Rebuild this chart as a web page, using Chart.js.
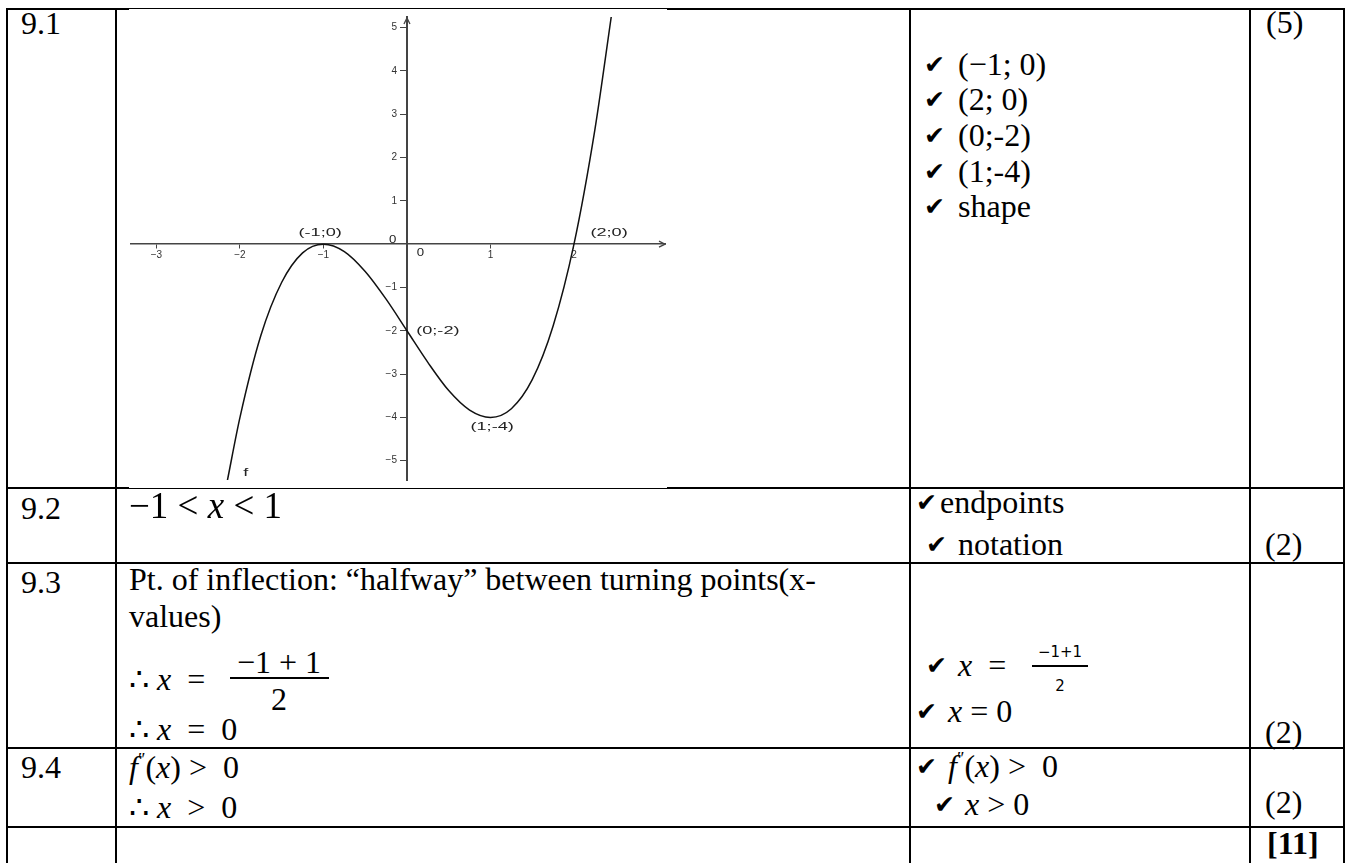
<!DOCTYPE html>
<html>
<head>
<meta charset="utf-8">
<script src="https://cdn.jsdelivr.net/npm/chart.js@4.4.1/dist/chart.umd.min.js"></script>
<style>
  body { margin: 0; width: 1352px; height: 863px; overflow: hidden; background: #fff; position: relative;
         font-family: "Liberation Serif", "Times New Roman", serif; color: #000; }
  .ln { position: absolute; background: #000; }
  .t { position: absolute; font-size: 32px; line-height: 1; white-space: nowrap; }
  .big { font-size: 37px; }
  .ck { position: absolute; font-family: "DejaVu Sans", sans-serif; font-size: 25px; line-height: 1; margin-top: -3px; }
  .sm { position: absolute; font-family: "DejaVu Sans", sans-serif; font-size: 15px; line-height: 1; text-align: center; }
  i { font-style: italic; }
  #plot { position: absolute; left: 130px; top: 9px; width: 536px; height: 479px; background: #fff; }
</style>
</head>
<body>

<!-- table rules -->
<div class="ln" style="left:6px;top:8px;width:123px;height:2px"></div>
<div class="ln" style="left:129px;top:8px;width:538px;height:1px"></div>
<div class="ln" style="left:667px;top:8px;width:678px;height:2px"></div>
<div class="ln" style="left:6px;top:487px;width:123px;height:2px"></div>
<div class="ln" style="left:129px;top:488px;width:538px;height:1px"></div>
<div class="ln" style="left:667px;top:487px;width:678px;height:2px"></div>
<div class="ln" style="left:6px;top:562px;width:1339px;height:2px"></div>
<div class="ln" style="left:6px;top:747px;width:1339px;height:2px"></div>
<div class="ln" style="left:6px;top:826px;width:1339px;height:2px"></div>
<div class="ln" style="left:6px;top:8px;width:2px;height:855px"></div>
<div class="ln" style="left:115px;top:8px;width:2px;height:855px"></div>
<div class="ln" style="left:909px;top:8px;width:2px;height:855px"></div>
<div class="ln" style="left:1249px;top:8px;width:2px;height:855px"></div>
<div class="ln" style="left:1343px;top:8px;width:2px;height:855px"></div>

<div id="plot"><canvas id="chart" width="536" height="479"></canvas></div>

<!-- question numbers -->
<div class="t" style="left:21px;top:7px">9.1</div>
<div class="t" style="left:21px;top:492px">9.2</div>
<div class="t" style="left:21px;top:566px">9.3</div>
<div class="t" style="left:21px;top:751px">9.4</div>

<!-- answers -->
<div class="t big" style="left:129px;top:487px">−1 &lt; <i>x</i> &lt; 1</div>
<div class="t" style="left:129px;top:563px">Pt. of inflection: “halfway” between turning points(x-</div>
<div class="t" style="left:129px;top:600px">values)</div>
<div class="t" style="left:129px;top:663px">∴ <i>x</i> &nbsp;= </div>
<div class="t" style="left:229px;top:646px;width:100px;text-align:center">−1 + 1</div>
<div class="ln" style="left:230px;top:677px;width:99px;height:2px"></div>
<div class="t" style="left:229px;top:683px;width:100px;text-align:center">2</div>
<div class="t" style="left:129px;top:713px">∴ <i>x</i> &nbsp;= &nbsp;0</div>
<div class="t" style="left:129px;top:751px"><i>f</i><sup style="font-size:18px">″</sup>(<i>x</i>) &gt; &nbsp;0</div>
<div class="t" style="left:129px;top:791px">∴ <i>x</i> &nbsp;&gt; &nbsp;0</div>

<!-- marking memo -->
<div class="ck" style="left:924px;top:55px">✔</div><div class="t" style="left:958px;top:48px">(−1; 0)</div>
<div class="ck" style="left:924px;top:90px">✔</div><div class="t" style="left:958px;top:83px">(2; 0)</div>
<div class="ck" style="left:924px;top:126px">✔</div><div class="t" style="left:958px;top:119px">(0;-2)</div>
<div class="ck" style="left:924px;top:162px">✔</div><div class="t" style="left:958px;top:155px">(1;-4)</div>
<div class="ck" style="left:924px;top:197px">✔</div><div class="t" style="left:958px;top:190px">shape</div>

<div class="ck" style="left:916px;top:493px">✔</div><div class="t" style="left:940px;top:486px">endpoints</div>
<div class="ck" style="left:926px;top:535px">✔</div><div class="t" style="left:958px;top:528px">notation</div>

<div class="ck" style="left:926px;top:656px">✔</div><div class="t" style="left:958px;top:649px"><i>x</i> &nbsp;= </div>
<div class="sm" style="left:1030px;top:645px;width:60px">−1+1</div>
<div class="ln" style="left:1032px;top:665px;width:56px;height:2px"></div>
<div class="sm" style="left:1030px;top:679px;width:60px">2</div>
<div class="ck" style="left:916px;top:702px">✔</div><div class="t" style="left:948px;top:695px"><i>x</i> = 0</div>

<div class="ck" style="left:916px;top:757px">✔</div><div class="t" style="left:948px;top:750px"><i>f</i><sup style="font-size:18px">″</sup>(<i>x</i>) &gt; &nbsp;0</div>
<div class="ck" style="left:934px;top:795px">✔</div><div class="t" style="left:965px;top:788px"><i>x</i> &gt; 0</div>

<!-- marks -->
<div class="t" style="left:1266px;top:6px">(5)</div>
<div class="t" style="left:1265px;top:528px">(2)</div>
<div class="t" style="left:1265px;top:716px">(2)</div>
<div class="t" style="left:1265px;top:786px">(2)</div>
<div class="t" style="left:1267px;top:827px;font-weight:bold">[11]</div>

<script>
const curveX = [-2.15, -2, -1.75, -1.5, -1.25, -1, -0.75, -0.5, -0.25, 0, 0.25, 0.5, 0.75, 1, 1.25, 1.5, 1.75, 2, 2.25, 2.45];
const curveY = [-5.45, -4, -2.11, -0.88, -0.2, 0, -0.17, -0.63, -1.27, -2, -2.73, -3.38, -3.83, -4, -3.8, -3.13, -1.89, 0, 2.64, 5.3];

const xTickValues = [-3, -2, -1, 1, 2];
const yTickValues = [-5, -4, -3, -2, -1, 1, 2, 3, 4, 5];

// labelled points on the sketch and where their text sits (chart units)
const pointLabels = ['(-1;0)', '(2;0)', '(0;-2)', '(1;-4)', 'f', '0', '0'];
const labelX = [-1.04, 2.42, 0.11, 1.02, -1.93, 0.16, -0.17];
const labelY = [0.27, 0.25, -2.0, -4.22, -5.29, -0.2, 0.09];
const labelAlign = ['center', 'center', 'left', 'center', 'center', 'center', 'center'];

const axisColor = '#444';
const tickFont = { family: 'Liberation Sans', size: 10 };

const minus = v => String(v).replace('-', '\u2212');
// centred axes put y labels right on the line, so pad them with en spaces
const yLabel = v => minus(v) + '\u2002\u2002';

const sketchPlugin = {
    id: 'sketch',
    afterDraw(chart) {
        const ctx = chart.ctx;
        const xs = chart.scales.x;
        const ys = chart.scales.y;
        const ox = xs.getPixelForValue(0);
        const oy = ys.getPixelForValue(0);

        // arrow heads on the axes
        ctx.save();
        ctx.strokeStyle = axisColor;
        ctx.lineWidth = 1.3;
        const xr = xs.right - 1;
        ctx.beginPath();
        ctx.moveTo(xr - 6, oy - 3); ctx.lineTo(xr, oy); ctx.lineTo(xr - 6, oy + 3);
        ctx.stroke();
        const yt = ys.top + 1;
        ctx.beginPath();
        ctx.moveTo(ox - 3, yt + 6); ctx.lineTo(ox, yt); ctx.lineTo(ox + 3, yt + 6);
        ctx.stroke();

        // point labels, stretched like the scaled picture
        ctx.fillStyle = '#222';
        ctx.font = '11px "Liberation Sans"';
        ctx.textBaseline = 'middle';
        pointLabels.forEach((txt, i) => {
            const px = xs.getPixelForValue(labelX[i]);
            const py = ys.getPixelForValue(labelY[i]);
            const stretch = txt === '0' ? 1.2 : 1.65;
            ctx.save();
            ctx.translate(px, py);
            ctx.scale(stretch, 1);
            ctx.textAlign = labelAlign[i];
            ctx.fillText(txt, 0, 0);
            ctx.restore();
        });
        ctx.restore();
    }
};

new Chart(document.getElementById('chart'), {
    type: 'line',
    data: {
        datasets: [{
            label: 'f',
            data: curveX.map((x, i) => ({ x: x, y: curveY[i] })),
            borderColor: '#111',
            borderWidth: 1.5,
            pointRadius: 0,
            fill: false,
            cubicInterpolationMode: 'monotone'
        }]
    },
    options: {
        responsive: false,
        animation: false,
        devicePixelRatio: 1,
        layout: { padding: 0 },
        plugins: { legend: { display: false }, tooltip: { enabled: false } },
        scales: {
            x: {
                type: 'linear',
                min: -3.317,
                max: 3.102,
                position: { y: 0 },
                afterBuildTicks: s => { s.ticks = xTickValues.map(v => ({ value: v })); },
                afterFit: s => { s.height = 0; },
                ticks: { callback: minus, font: tickFont, color: '#333', padding: 1, maxRotation: 0, autoSkip: false },
                grid: { drawOnChartArea: false, drawTicks: true, tickLength: 4, color: axisColor },
                border: { display: true, color: axisColor, width: 1.5 }
            },
            y: {
                type: 'linear',
                min: -5.446,
                max: 5.246,
                position: { x: 0 },
                afterBuildTicks: s => { s.ticks = yTickValues.map(v => ({ value: v })); },
                afterFit: s => { s.width = 0; },
                ticks: { callback: yLabel, font: tickFont, color: '#333', padding: 2, autoSkip: false },
                grid: { drawOnChartArea: false, drawTicks: true, tickLength: 6, color: axisColor },
                border: { display: true, color: axisColor, width: 2 }
            }
        }
    },
    plugins: [sketchPlugin]
});
</script>
</body>
</html>
